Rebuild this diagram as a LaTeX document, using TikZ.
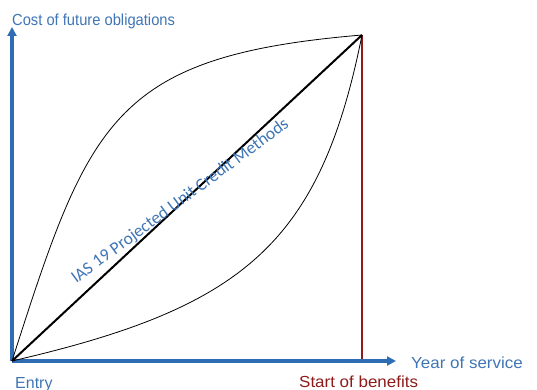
\documentclass[tikz,border=0pt]{standalone}
\usepackage{fontspec}
\setmainfont{Liberation Sans}
\newfontfamily\calfont{Carlito}
\usetikzlibrary{arrows.meta}
\definecolor{axisblue}{HTML}{2E6DB4}
\definecolor{textblue}{HTML}{3F75B5}
\definecolor{darkred}{HTML}{8E1A1A}
\tikzset{
  axis/.style={draw=axisblue, line width=3.2pt, -{Triangle[length=9pt,width=9pt]}},
  lbl/.style={text=textblue, font=\fontsize{16}{18}\selectfont, inner sep=0pt, anchor=base west},
  thin curve/.style={draw=black, line width=0.8pt},
}
\begin{document}
\begin{tikzpicture}[x=1pt,y=-1pt]
\useasboundingbox (0,0) rectangle (537,390);
\coordinate (O) at (12,361);
\coordinate (T) at (362,35);
\coordinate (Ytop) at (12,27);
\coordinate (Xend) at (396,361);
\coordinate (R) at (362,361);
\draw[darkred, line width=2.6pt] (R) -- (T);
\draw[axis] (O) -- (Ytop);
\draw[axis] (O) -- (Xend);
\draw[thin curve] (O) .. controls (89,121) and (112,56) .. (T);
\draw[thin curve] (O) .. controls (242,308) and (320,245) .. (T);
\draw[black, line width=2pt] (O) -- (T);
\node[lbl, xscale=0.92] (ylab) at (12,26) {Cost of future obligations};
\node[lbl, xscale=1.06] (xlab) at (411,368) {Year of service};
\node[lbl] (entry) at (15,388) {Entry};
\node[lbl, xscale=1.06, text=darkred] (start) at (299,387) {Start of benefits};
\node[text=textblue, font=\calfont\fontsize{17.5}{20}\selectfont, rotate=36.4, inner sep=0pt, anchor=base] (ias) at (183,205) {IAS 19 Projected Unit Credit Methods};
\end{tikzpicture}
\end{document}
